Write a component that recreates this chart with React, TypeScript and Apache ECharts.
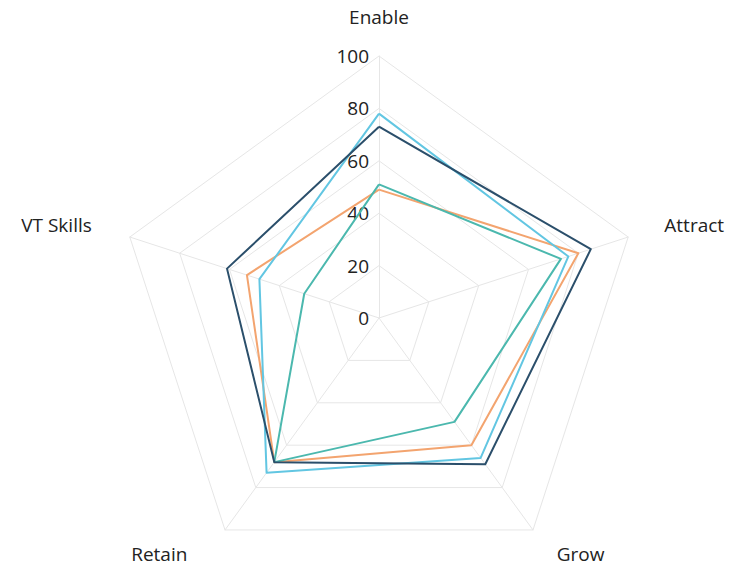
import React, { useEffect, useRef } from "react";
import * as echarts from "echarts";

// Indicators listed in ECharts' (counter-clockwise) order so that, on screen,
// they read clockwise: Enable, Attract, Grow, Retain, VT Skills.
const indicators = ["Enable", "VT Skills", "Retain", "Grow", "Attract"];
const maxValue = 100;

const seriesNames = ["Orange", "Teal", "Light Blue", "Navy"];
// values in the order of `indicators`
const orangeValues = [49, 53, 68, 60, 80];
const tealValues = [51, 30, 68, 49, 73];
const lightBlueValues = [78, 48, 73, 66, 76];
const navyValues = [73, 61, 68, 69, 85];
const seriesColors = ["#f3a46f", "#4bb8ae", "#62c6e2", "#2b4f6b"];

const nameGaps = [30, 40, 30, 30, 38];
const namePaddings = [
  [0, 0, 0, 0],
  [8, 0, 0, 0],
  [0, 20, 0, 0],
  [0, 0, 0, 6],
  [8, 0, 0, 0],
];

export default function App() {
  const ref = useRef<HTMLDivElement>(null);
  useEffect(() => {
    if (!ref.current) return;
    const chart = echarts.init(ref.current, null, { renderer: "svg" });
    const values = [orangeValues, tealValues, lightBlueValues, navyValues];
    chart.setOption({
      animation: false,
      backgroundColor: "#ffffff",
      radar: {
        center: [379, 318],
        radius: 262,
        shape: "polygon",
        splitNumber: 5,
        startAngle: 90,
        nameGap: 30,
        axisName: {
          color: "#222",
          fontSize: 19,
          fontFamily: "Open Sans",
        },
        axisLine: { lineStyle: { color: "#e6e6e6", width: 1 } },
        splitLine: { lineStyle: { color: "#e6e6e6", width: 1 } },
        splitArea: { show: false },
        axisTick: { show: false },
        axisLabel: { show: false },
        indicator: indicators.map((name, i) => {
          const base: any = {
            name,
            min: 0,
            max: maxValue,
            nameGap: nameGaps[i],
            nameTextStyle: { padding: namePaddings[i] },
          };
          if (i === 0) {
            base.axisLabel = {
              show: true,
              color: "#222",
              fontSize: 19,
              fontFamily: "Open Sans",
              margin: 10,
            };
          }
          return base;
        }),
      },
      series: [
        {
          type: "radar",
          symbol: "none",
          data: values.map((v, i) => ({
            name: seriesNames[i],
            value: v,
            lineStyle: { color: seriesColors[i], width: 2 },
            itemStyle: { color: seriesColors[i] },
          })),
        },
      ],
    });
    return () => chart.dispose();
  }, []);
  return (
    <div
      ref={ref}
      style={{ position: "fixed", left: 0, top: 0, width: 730, height: 567 }}
    />
  );
}
